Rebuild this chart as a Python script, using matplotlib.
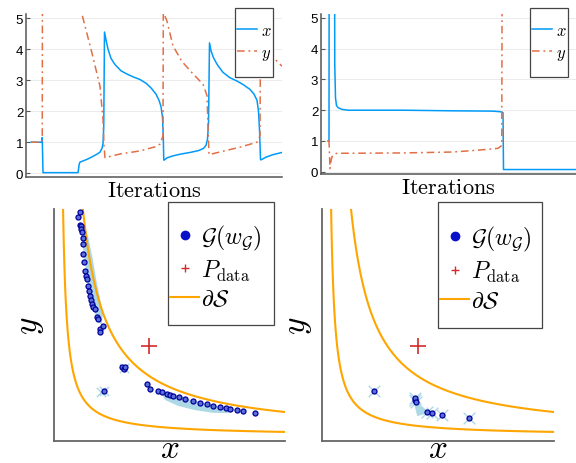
import numpy as np
import matplotlib
matplotlib.use("Agg")
import matplotlib.pyplot as plt
from matplotlib.lines import Line2D
from matplotlib.patches import Rectangle

plt.rcParams["mathtext.fontset"] = "cm"
plt.rcParams["font.family"] = ["Liberation Sans", "DejaVu Sans"]

BLUE = "#009af9"
ORANGE_RED = "#e26f46"
DASHDOT = (0, (5, 2.5, 1.2, 2.5))

# ---- top left: x / y over iterations ----
tl_x_iter = [0, 44, 45, 48, 188, 193, 196, 209, 230, 249, 265, 276, 284, 288, 291, 294,
             300, 308, 320, 336, 360, 383, 410, 436, 460, 480, 500, 512, 520, 526, 529, 531,
             532, 545, 568, 600, 636, 670, 690, 700, 706, 710, 714,
             720, 730, 745, 768, 795, 824, 850, 876, 892, 904, 910, 914, 918,
             920, 940, 968, 1004]
tl_x_val = [1.0, 1.0, 1.15, 0.02, 0.02, 0.3, 0.36, 0.40, 0.47, 0.55, 0.62, 0.68, 0.8, 0.95, 1.5, 4.55,
            4.3, 4.0, 3.7, 3.5, 3.3, 3.2, 3.1, 3.02, 2.9, 2.75, 2.55, 2.35, 2.15, 1.8, 1.2, 0.45,
            0.42, 0.5, 0.56, 0.62, 0.67, 0.73, 0.8, 0.9, 1.1, 1.6, 4.2,
            3.95, 3.72, 3.5, 3.25, 3.08, 2.97, 2.85, 2.7, 2.55, 2.35, 2.0, 1.4, 0.45,
            0.43, 0.52, 0.6, 0.67]
tl_y_iter = [0, 43, 45, 46, 190, 203, 243, 276, 288, 292, 296, 356, 436, 500, 516, 528, 530,
             534, 544, 568, 604, 648, 688, 704, 708, 712, 768, 836, 904, 916, 920,
             930, 968, 985, 1004]
tl_y_val = [1.0, 1.0, 1.15, 8.0, 5.8, 5.15, 3.9, 2.8, 1.74, 0.88, 0.5, 0.62, 0.72, 0.86, 0.94, 1.2, 8.0,
            5.1, 4.9, 4.1, 3.6, 3.2, 2.87, 2.5, 1.5, 0.6, 0.71, 0.84, 1.0, 1.2, 8.0,
            6.0, 3.74, 3.6, 3.45]

# ---- top right: x / y over iterations ----
tr_x_iter = [0, 4, 6, 24, 27, 30, 34, 41, 55, 80, 300, 500, 660, 690, 700, 702, 992]
tr_x_val = [1.0, 1.0, 20, 20, 3.5, 2.4, 2.15, 2.08, 2.03, 2.0, 2.0, 1.98, 1.97, 1.95, 1.92, 0.07, 0.07]
tr_y_iter = [0, 4, 8, 12, 16, 20, 36, 100, 300, 500, 600, 680, 695, 700]
tr_y_val = [1.0, 1.0, 0.1, 0.35, 0.48, 0.55, 0.6, 0.6, 0.61, 0.64, 0.7, 0.76, 0.85, 20]

# ---- bottom panels: generator samples, target, boundary of S ----
S_LEVELS = [1, 6]
P_DATA = (3.0, 3.0)

bl_dots_x = [0.70, 0.64, 0.68, 0.72, 0.74, 0.76, 0.78, 0.80, 0.81, 0.84, 0.87, 0.90, 0.92, 0.95, 0.98,
             1.03, 1.06, 1.09, 1.14, 1.20, 1.26, 1.31, 1.37, 1.37, 1.47,
             2.09, 2.15, 2.20, 1.48,
             2.92, 3.03, 3.31, 3.42, 3.59, 3.70, 3.81, 4.0, 4.2, 4.45, 4.7, 4.92, 5.14,
             5.37, 5.55, 5.70, 5.92, 6.14, 6.53]
bl_dots_y = [7.47, 7.30, 7.05, 7.00, 6.90, 6.80, 6.60, 6.40, 6.07, 5.80, 5.51, 5.35, 5.23, 5.00, 4.84,
             4.68, 4.55, 4.40, 4.30, 4.23, 3.97, 3.90, 3.57, 3.46, 3.67,
             2.29, 2.22, 2.30, 1.51,
             1.73, 1.57, 1.51, 1.46, 1.40, 1.37, 1.34, 1.29, 1.23, 1.17, 1.10, 1.05, 1.00,
             0.96, 0.93, 0.90, 0.87, 0.84, 0.76]
bl_band1_x = [0.73, 0.80, 0.90, 1.00, 1.12, 1.28, 1.42, 1.46, 1.36, 1.24, 1.12, 0.98, 0.86]
bl_band1_y = [7.07, 6.23, 5.50, 4.83, 4.33, 3.83, 3.70, 4.10, 4.60, 5.20, 5.90, 6.60, 7.00]
bl_band2_x = [3.37, 3.87, 4.70, 5.37, 5.87, 5.63, 5.13, 4.53, 3.97, 3.53]
bl_band2_y = [1.50, 1.33, 1.13, 0.97, 0.87, 0.76, 0.77, 0.86, 1.00, 1.20]
bl_cross_x = [1.48, 1.40, 2.15]
bl_cross_y = [1.51, 1.45, 2.26]

br_dots_x = [1.54, 2.91, 2.93, 2.95, 3.32, 3.49, 3.82, 4.71]
br_dots_y = [1.49, 1.20, 1.27, 1.12, 0.81, 0.77, 0.71, 0.60]
br_blob_x = [2.85, 2.93, 2.99, 3.20, 3.45, 3.10]
br_blob_y = [1.25, 0.90, 0.66, 0.72, 0.80, 0.97]

W, H = 576.0, 464.0
fig = plt.figure(figsize=(5.76, 4.64), dpi=100)


def px_axes(left, top, right, bottom):
    return fig.add_axes([left / W, 1 - bottom / H, (right - left) / W, (bottom - top) / H])


def legend_box(left, top, right, bottom):
    fig.patches.append(Rectangle((left / W, 1 - bottom / H), (right - left) / W,
                                 (bottom - top) / H, transform=fig.transFigure,
                                 facecolor="white", edgecolor="#444444", lw=0.9, zorder=3))


def style_iter_axes(ax, ymin):
    for side in ("top", "right"):
        ax.spines[side].set_visible(False)
    for side in ("left", "bottom"):
        ax.spines[side].set_color("#555555")
        ax.spines[side].set_linewidth(1.1)
    ax.set_ylim(ymin, 5.13)
    ax.set_yticks(range(6))
    ax.set_xticks([])
    ax.tick_params(axis="y", direction="in", length=3, color="#555555",
                   labelsize=9.5, pad=2)
    ax.grid(axis="y", color="#e8e8e8", linewidth=0.6)
    ax.set_axisbelow(True)
    ax.set_xlabel(r"$\mathrm{Iterations}$", fontsize=16, labelpad=2)


def iter_legend(ax, left, top, right, bottom):
    legend_box(left, top, right, bottom)
    handles, labels = ax.get_legend_handles_labels()
    leg = fig.legend(handles, labels, loc="center left",
                     bbox_to_anchor=((left - 6) / W, 1 - (top + bottom) / 2 / H),
                     fontsize=12, handlelength=1.15, handletextpad=0.25,
                     borderpad=0, labelspacing=0.45, frameon=False)
    leg.set_zorder(4)


def style_xy_axes(ax):
    for side in ("top", "right"):
        ax.spines[side].set_visible(False)
    for side in ("left", "bottom"):
        ax.spines[side].set_color("#666666")
        ax.spines[side].set_linewidth(1.3)
    ax.set_xticks([])
    ax.set_yticks([])
    ax.set_xlim(-0.17, 7.53)
    ax.set_ylim(-0.17, 7.57)
    ax.set_xlabel(r"$x$", fontsize=24, labelpad=-6)
    ax.set_ylabel(r"$y$", fontsize=24, labelpad=6)


def draw_boundary(ax):
    gx = np.linspace(0.02, 7.6, 900)
    gX, gY = np.meshgrid(gx, gx)
    ax.contour(gX, gY, gX * gY, levels=S_LEVELS, colors="#ffa500", linewidths=1.5)


def xy_legend(left, top, right, bottom):
    legend_box(left, top, right, bottom)
    handles = [
        Line2D([], [], ls="none", marker="o", ms=6, color="#0a10c8"),
        Line2D([], [], ls="none", marker="+", ms=6, mew=1.0, color="#d42a2a"),
        Line2D([], [], color="#ffa500", lw=1.5),
    ]
    labels = [r"$\mathcal{G}(w_{\mathcal{G}})$", r"$P_{\mathrm{data}}$", r"$\partial\mathcal{S}$"]
    leg = fig.legend(handles, labels, loc="center left",
                     bbox_to_anchor=((left - 10) / W, 1 - (top + bottom + 6) / 2 / H),
                     fontsize=17, handlelength=1.25, handletextpad=0.08,
                     borderpad=0, labelspacing=0.25, frameon=False)
    leg.set_zorder(4)


def draw_samples(ax, dots_x, dots_y):
    ax.scatter(dots_x, dots_y, s=13, facecolor="#5a70d8", edgecolor="#00009a", lw=0.9, zorder=3)
    ax.plot(*P_DATA, marker="+", ms=12, mew=1.2, color="#d42a2a")


# top left
ax = px_axes(26, 15, 282, 178.3)
ax.plot(tl_x_iter, tl_x_val, color=BLUE, lw=1.1, label=r"$x$")
ax.plot(tl_y_iter, tl_y_val, color=ORANGE_RED, lw=1.1, ls=DASHDOT, label=r"$y$")
ax.set_xlim(-20, 1004)
style_iter_axes(ax, -0.13)
iter_legend(ax, 235, 9, 273, 78)

# top right
ax = px_axes(321, 15, 576, 175.3)
ax.plot(tr_x_iter, tr_x_val, color=BLUE, lw=1.1, label=r"$x$")
ax.plot(tr_y_iter, tr_y_val, color=ORANGE_RED, lw=1.1, ls=DASHDOT, label=r"$y$")
ax.set_xlim(-28, 992)
style_iter_axes(ax, -0.085)
iter_legend(ax, 530, 9, 568, 78)

# bottom left
ax = px_axes(54, 210, 285, 442)
draw_boundary(ax)
ax.fill(bl_band1_x, bl_band1_y, color="#add8e6", lw=0)
ax.fill(bl_band2_x, bl_band2_y, color="#add8e6", lw=0)
ax.scatter(bl_cross_x, bl_cross_y, marker="x", s=45, color="#add8e6", lw=1.0)
draw_samples(ax, bl_dots_x, bl_dots_y)
style_xy_axes(ax)
xy_legend(168, 203, 274, 326)

# bottom right
ax = px_axes(322, 210, 554, 442)
draw_boundary(ax)
ax.fill(br_blob_x, br_blob_y, color="#add8e6", lw=0)
ax.scatter(br_dots_x, br_dots_y, marker="x", s=70, color="#add8e6", lw=1.0)
draw_samples(ax, br_dots_x, br_dots_y)
style_xy_axes(ax)
xy_legend(438, 203, 542, 329)

fig.savefig("out.png", dpi=100)
